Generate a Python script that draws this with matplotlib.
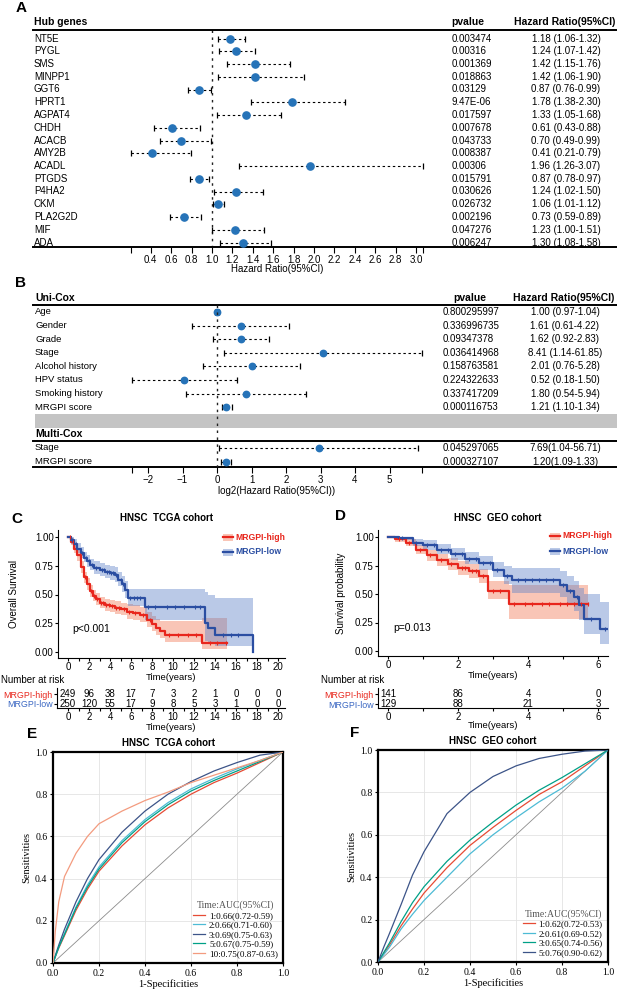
import numpy as np
import matplotlib
matplotlib.use('Agg')
import matplotlib.pyplot as plt
from matplotlib.patches import Rectangle

plt.rcParams['font.family'] = ['Liberation Sans', 'DejaVu Sans']

# ---------------- data: panel A (hub genes, univariate Cox) ----------------
genes = ['NT5E', 'PYGL', 'SMS', 'MINPP1', 'GGT6', 'HPRT1', 'AGPAT4', 'CHDH', 'ACACB',
         'AMY2B', 'ACADL', 'PTGDS', 'P4HA2', 'CKM', 'PLA2G2D', 'MIF', 'ADA']
gene_hr = [1.18, 1.24, 1.42, 1.42, 0.87, 1.78, 1.33, 0.61, 0.70, 0.41, 1.96, 0.87, 1.24, 1.06, 0.73, 1.23, 1.30]
gene_lo = [1.06, 1.07, 1.15, 1.06, 0.76, 1.38, 1.05, 0.43, 0.49, 0.21, 1.26, 0.78, 1.02, 1.01, 0.59, 1.00, 1.08]
gene_hi = [1.32, 1.42, 1.76, 1.90, 0.99, 2.30, 1.68, 0.88, 0.99, 0.79, 3.07, 0.97, 1.50, 1.12, 0.89, 1.51, 1.58]
gene_p = ['0.003474', '0.00316', '0.001369', '0.018863', '0.03129', '9.47E-06', '0.017597', '0.007678',
          '0.043733', '0.008387', '0.00306', '0.015791', '0.030626', '0.026732', '0.002196', '0.047276', '0.006247']
hr_tick_labels_A = ['0.4', '0.6', '0.8', '1.0', '1.2', '1.4', '1.6', '1.8', '2.0', '2.2', '2.4', '2.6', '2.8', '3.0']

# ---------------- data: panel B (clinical Cox) ----------------
uni_vars = ['Age', 'Gender', 'Grade', 'Stage', 'Alcohol history', 'HPV status', 'Smoking history', 'MRGPI score']
uni_hr = [1.00, 1.61, 1.62, 8.41, 2.01, 0.52, 1.80, 1.21]
uni_lo = [0.97, 0.61, 0.92, 1.14, 0.76, 0.18, 0.54, 1.10]
uni_hi = [1.04, 4.22, 2.83, 61.85, 5.28, 1.50, 5.94, 1.34]
uni_p = ['0.800295997', '0.336996735', '0.09347378', '0.036414968', '0.158763581', '0.224322633',
         '0.337417209', '0.000116753']
multi_vars = ['Stage', 'MRGPI score']
multi_hr = [7.69, 1.20]
multi_lo = [1.04, 1.09]
multi_hi = [56.71, 1.33]
multi_p = ['0.045297065', '0.000327107']
log_tick_labels_B = ['\u22122', '\u22121', '0', '1', '2', '3', '4', '5']

# ---------------- data: panel C (TCGA Kaplan-Meier) ----------------
c_high_t = [0, 0.3, 0.6, 0.9, 1.2, 1.5, 1.8, 2.1, 2.4, 2.7, 3.0, 3.5, 4.0, 4.5, 5.0, 5.6, 6.2, 6.9, 7.5, 8.0, 8.4, 8.8, 9.2, 12.8]
c_high_s = [1.0, 0.96, 0.90, 0.84, 0.74, 0.65, 0.59, 0.53, 0.49, 0.46, 0.43, 0.41, 0.40, 0.38, 0.37, 0.35, 0.34, 0.32, 0.28, 0.24, 0.21, 0.18, 0.15, 0.08]
c_high_lo = [1.0, 0.93, 0.86, 0.79, 0.69, 0.60, 0.54, 0.48, 0.44, 0.41, 0.38, 0.36, 0.35, 0.33, 0.32, 0.29, 0.28, 0.26, 0.22, 0.18, 0.15, 0.12, 0.09, 0.03]
c_high_hi = [1.0, 0.99, 0.94, 0.89, 0.79, 0.70, 0.64, 0.58, 0.54, 0.51, 0.48, 0.46, 0.45, 0.44, 0.43, 0.42, 0.41, 0.39, 0.35, 0.31, 0.29, 0.27, 0.27, 0.30]
c_high_end = 15.1
c_high_cens = [0.2, 0.5, 1.1, 1.6, 2.2, 2.5, 2.8, 3.1, 3.3, 3.6, 3.9, 4.2, 4.6, 4.9, 5.3, 5.8, 6.4, 7.1, 7.8, 9.6, 10.5, 11.4, 12.2, 13.5, 14.2, 15.0]
c_low_t = [0, 0.3, 0.6, 0.9, 1.2, 1.5, 1.8, 2.1, 2.5, 3.0, 3.5, 4.0, 4.5, 4.8, 5.1, 5.4, 5.7, 7.3, 13.0, 13.3, 14.0, 17.6]
c_low_s = [1.0, 0.97, 0.94, 0.90, 0.86, 0.82, 0.79, 0.76, 0.73, 0.71, 0.70, 0.69, 0.67, 0.63, 0.59, 0.54, 0.47, 0.39, 0.25, 0.21, 0.15, 0.0]
c_low_lo = [1.0, 0.94, 0.90, 0.86, 0.82, 0.78, 0.74, 0.71, 0.68, 0.66, 0.64, 0.63, 0.61, 0.57, 0.52, 0.47, 0.40, 0.28, 0.10, 0.07, 0.05, 0.0]
c_low_hi = [1.0, 1.0, 0.98, 0.95, 0.91, 0.87, 0.84, 0.81, 0.79, 0.77, 0.76, 0.75, 0.74, 0.70, 0.66, 0.62, 0.55, 0.55, 0.52, 0.50, 0.47, 0.47]
c_low_end = 17.6
c_low_cens = [0.4, 0.8, 1.3, 1.7, 2.0, 2.3, 2.7, 3.2, 3.4, 3.7, 3.9, 4.1, 4.3, 4.6, 5.0, 5.2, 5.9, 6.3, 6.6, 6.9, 7.6, 8.3, 9.4, 10.2, 11.0, 12.1, 12.6, 14.8, 15.5, 16.2]
c_risk_times = [0, 2, 4, 6, 8, 10, 12, 14, 16, 18, 20]
c_risk_high = [249, 96, 38, 17, 7, 3, 2, 1, 0, 0, 0]
c_risk_low = [250, 120, 55, 17, 9, 8, 5, 3, 1, 0, 0]

# ---------------- data: panel D (GEO Kaplan-Meier) ----------------
d_high_t = [0, 0.2, 0.5, 0.8, 1.1, 1.4, 1.7, 2.0, 2.3, 2.6, 2.85, 3.45]
d_high_s = [1.0, 0.98, 0.95, 0.89, 0.84, 0.80, 0.76, 0.73, 0.70, 0.66, 0.53, 0.41]
d_high_lo = [1.0, 0.96, 0.92, 0.85, 0.79, 0.75, 0.71, 0.67, 0.64, 0.60, 0.46, 0.28]
d_high_hi = [1.0, 1.0, 0.98, 0.93, 0.89, 0.85, 0.82, 0.79, 0.76, 0.72, 0.61, 0.58]
d_high_end = 5.7
d_high_cens = [0.3, 0.6, 0.9, 1.2, 1.5, 1.8, 2.1, 2.2, 2.4, 2.5, 2.7, 3.0, 3.2, 3.6, 3.9, 4.1, 4.4, 4.6, 4.9, 5.1, 5.3, 5.5, 5.7]
d_low_t = [0, 0.3, 0.7, 1.0, 1.4, 1.8, 2.2, 2.6, 3.0, 3.3, 3.55, 4.9, 5.1, 5.3, 5.45, 5.6, 6.05]
d_low_s = [1.0, 0.99, 0.95, 0.93, 0.89, 0.85, 0.81, 0.77, 0.71, 0.66, 0.62, 0.58, 0.53, 0.47, 0.40, 0.28, 0.19]
d_low_lo = [1.0, 0.97, 0.92, 0.89, 0.85, 0.80, 0.76, 0.71, 0.65, 0.59, 0.51, 0.47, 0.41, 0.35, 0.27, 0.15, 0.06]
d_low_hi = [1.0, 1.0, 0.98, 0.97, 0.94, 0.90, 0.87, 0.83, 0.78, 0.75, 0.73, 0.70, 0.66, 0.61, 0.55, 0.50, 0.43]
d_low_end = 6.3
d_low_cens = [0.4, 0.8, 1.1, 1.3, 1.5, 1.7, 1.9, 2.1, 2.3, 2.5, 2.7, 2.9, 3.1, 3.4, 3.7, 3.9, 4.1, 4.3, 4.5, 4.7, 5.0, 5.2, 5.4, 5.8, 6.2]
d_risk_times = [0, 2, 4, 6]
d_risk_high = [141, 86, 4, 0]
d_risk_low = [129, 88, 21, 3]

# ---------------- data: panel E / F (time-dependent ROC) ----------------
e_fpr = [0, 0.01, 0.025, 0.05, 0.1, 0.15, 0.2, 0.3, 0.4, 0.5, 0.6, 0.7, 0.8, 0.9, 1.0]
e_tpr = {
    '1:0.66(0.72-0.59)': [0, 0.03, 0.07, 0.13, 0.25, 0.35, 0.435, 0.555, 0.655, 0.735, 0.80, 0.855, 0.90, 0.95, 1.0],
    '2:0.66(0.71-0.60)': [0, 0.03, 0.075, 0.14, 0.265, 0.37, 0.455, 0.58, 0.68, 0.76, 0.825, 0.875, 0.92, 0.96, 1.0],
    '3:0.69(0.75-0.63)': [0, 0.035, 0.085, 0.16, 0.29, 0.40, 0.49, 0.62, 0.72, 0.80, 0.86, 0.91, 0.95, 0.985, 1.0],
    '5:0.67(0.75-0.59)': [0, 0.03, 0.075, 0.135, 0.26, 0.36, 0.445, 0.57, 0.67, 0.75, 0.815, 0.865, 0.91, 0.955, 1.0],
    '10:0.75(0.87-0.63)': [0, 0.15, 0.29, 0.41, 0.52, 0.60, 0.66, 0.72, 0.77, 0.81, 0.855, 0.89, 0.925, 0.96, 1.0],
}
e_colors = ['#E64B35', '#4DBBD5', '#3C5488', '#00A087', '#F39B7F']
f_fpr = [0, 0.025, 0.05, 0.1, 0.15, 0.2, 0.3, 0.4, 0.5, 0.6, 0.7, 0.8, 0.9, 1.0]
f_tpr = {
    '1:0.62(0.72-0.53)': [0, 0.04, 0.08, 0.17, 0.25, 0.325, 0.445, 0.55, 0.635, 0.715, 0.79, 0.85, 0.925, 1.0],
    '2:0.61(0.69-0.52)': [0, 0.035, 0.07, 0.155, 0.225, 0.29, 0.40, 0.51, 0.60, 0.68, 0.755, 0.82, 0.90, 1.0],
    '3:0.65(0.74-0.56)': [0, 0.045, 0.09, 0.19, 0.28, 0.355, 0.475, 0.575, 0.66, 0.74, 0.81, 0.87, 0.935, 1.0],
    '5:0.76(0.90-0.62)': [0, 0.07, 0.135, 0.27, 0.41, 0.52, 0.70, 0.80, 0.875, 0.925, 0.96, 0.98, 0.995, 1.0],
}
f_colors = ['#E64B35', '#4DBBD5', '#00A087', '#3C5488']
roc_ticks = [0.0, 0.2, 0.4, 0.6, 0.8, 1.0]

# ---------------- figure ----------------
W, H = 617, 989
fig = plt.figure(figsize=(W / 100, H / 100), dpi=100)


def px_axes(x0, y0, x1, y1):
    return fig.add_axes([x0 / W, 1 - y1 / H, (x1 - x0) / W, (y1 - y0) / H])


DOT = '#2673B8'
RED = '#E8261C'
BLUE = '#2B4EA2'
RISK_BLUE = '#3A67C2'
SERIF = ['Liberation Serif', 'DejaVu Serif']


def draw_forest(ax, ys, est, lo, hi, ms):
    for y, e, l, h in zip(ys, est, lo, hi):
        ax.plot([l, h], [y, y], color='black', lw=0.8, ls=(0, (2.2, 2.4)), zorder=2)
        ax.plot([l, h], [y, y], ls='none', marker='|', ms=5, mew=0.9, color='black', zorder=2)
        ax.plot([e], [y], 'o', ms=ms, color=DOT, mec=DOT, zorder=3)


def clean(ax):
    for sp in ax.spines.values():
        sp.set_visible(False)
    ax.set_yticks([])
    ax.patch.set_visible(False)


# ---- Panel A ----
a_row0, a_rowh = 38.5, 12.75
rA = lambda py: (py - a_row0) / a_rowh
axA = px_axes(0, 14, W, 247)
clean(axA)
axA.set_xlim(1 - 212 / 102, 1 + (W - 212) / 102)
axA.set_ylim(rA(247), rA(14))
ya = np.arange(len(genes))
draw_forest(axA, ya, gene_hr, gene_lo, gene_hi, 5.2)
axA.vlines(1, rA(30), rA(247), colors='#222222', lw=1.0, linestyles=(0, (1.8, 3.2)), zorder=1)
tA = axA.get_yaxis_transform()
for y, g, p, h, l, u in zip(ya, genes, gene_p, gene_hr, gene_lo, gene_hi):
    axA.text(34 / W, y, g, transform=tA, ha='left', va='center', fontsize=7)
    axA.text(452 / W, y, p, transform=tA, ha='left', va='center', fontsize=7)
    axA.text(566 / W, y, f'{h:.2f} ({l:.2f}-{u:.2f})', transform=tA, ha='center', va='center', fontsize=7)
axA.text(34 / W, rA(22), 'Hub genes', transform=tA, ha='left', va='center', fontsize=7.5, fontweight='bold')
axA.text(468 / W, rA(22), 'pvalue', transform=tA, ha='center', va='center', fontsize=7.5, fontweight='bold')
axA.text(565 / W, rA(22), 'Hazard Ratio(95%CI)', transform=tA, ha='center', va='center', fontsize=7.5, fontweight='bold')
axA.plot([33 / W, 1], [rA(30)] * 2, transform=tA, color='black', lw=1.4, clip_on=False)
axA.plot([33 / W, 1], [rA(246.5)] * 2, transform=tA, color='black', lw=1.4, clip_on=False)
a_min, a_max = min(gene_lo), max(gene_hi)
axA.set_xticks([a_min] + [float(v) for v in hr_tick_labels_A] + [a_max])
axA.set_xticklabels([''] + hr_tick_labels_A + [''])
axA.tick_params(axis='x', direction='out', length=4, width=0.8, labelsize=7, pad=2)
axA.text((a_min + a_max) / 2, -0.075, 'Hazard Ratio(95%CI)', transform=axA.get_xaxis_transform(),
         ha='center', va='top', fontsize=7)

# ---- Panel B ----
b_row0, b_rowh = 312, 13.6
rB = lambda py: (py - b_row0) / b_rowh
axB = px_axes(0, 290, W, 467)
clean(axB)
axB.set_xlim(-217 / 34.5, (W - 217) / 34.5)
axB.set_ylim(rB(467), rB(290))
yu = np.arange(len(uni_vars))
ym = np.arange(len(multi_vars)) + len(uni_vars) + 2
draw_forest(axB, yu, np.log2(uni_hr), np.log2(uni_lo), np.log2(uni_hi), 4.6)
draw_forest(axB, ym, np.log2(multi_hr), np.log2(multi_lo), np.log2(multi_hi), 4.6)
axB.axhspan(len(uni_vars) - 0.5, len(uni_vars) + 0.5, xmin=35 / W, xmax=1, color='#C4C4C4', lw=0, zorder=0)
axB.vlines(0, rB(305), rB(467), colors='#222222', lw=1.0, linestyles=(0, (1.8, 3.2)), zorder=4)
tB = axB.get_yaxis_transform()
for y, v, p, h, l, u in zip(yu, uni_vars, uni_p, uni_hr, uni_lo, uni_hi):
    axB.text(35 / W, y, v, transform=tB, ha='left', va='center', fontsize=6.8)
    axB.text(443 / W, y, p, transform=tB, ha='left', va='center', fontsize=7)
    axB.text(565 / W, y, f'{h:.2f} ({l:.2f}-{u:.2f})', transform=tB, ha='center', va='center', fontsize=7)
for y, v, p, h, l, u in zip(ym, multi_vars, multi_p, multi_hr, multi_lo, multi_hi):
    axB.text(35 / W, y, v, transform=tB, ha='left', va='center', fontsize=6.8)
    axB.text(443 / W, y, p, transform=tB, ha='left', va='center', fontsize=7)
    axB.text(565 / W, y, f'{h:.2f}({l:.2f}-{u:.2f})', transform=tB, ha='center', va='center', fontsize=7)
axB.text(35 / W, rB(298), 'Uni-Cox', transform=tB, ha='left', va='center', fontsize=7.5, fontweight='bold')
axB.text(470 / W, rB(298), 'pvalue', transform=tB, ha='center', va='center', fontsize=7.5, fontweight='bold')
axB.text(564 / W, rB(298), 'Hazard Ratio(95%CI)', transform=tB, ha='center', va='center', fontsize=7.5, fontweight='bold')
axB.text(35 / W, len(uni_vars) + 1, 'Multi-Cox', transform=tB, ha='left', va='center', fontsize=7.5, fontweight='bold')
axB.plot([33 / W, 1], [rB(305)] * 2, transform=tB, color='black', lw=1.4, clip_on=False)
axB.plot([33 / W, 1], [len(uni_vars) + 1.5] * 2, transform=tB, color='black', lw=1.4, clip_on=False)
axB.plot([33 / W, 1], [rB(466.5)] * 2, transform=tB, color='black', lw=1.4, clip_on=False)
b_min = float(np.log2(min(uni_lo + multi_lo)))
b_max = float(np.log2(max(uni_hi + multi_hi)))
axB.set_xticks([b_min] + [float(v.replace('\u2212', '-')) for v in log_tick_labels_B] + [b_max])
axB.set_xticklabels([''] + log_tick_labels_B + [''])
axB.tick_params(axis='x', direction='out', length=4, width=0.8, labelsize=7, pad=2)
axB.text((b_min + b_max) / 2, -0.11, 'log2(Hazard Ratio(95%CI))', transform=axB.get_xaxis_transform(),
         ha='center', va='top', fontsize=7)


# ---- KM panels ----
def km_band(ax, t, lo, hi, t_end, band_c, band_a):
    tt = np.append(t, t_end)
    ax.fill_between(tt, np.append(lo, lo[-1]), np.append(hi, hi[-1]), step='post',
                    color=band_c, alpha=band_a, lw=0, zorder=1)


def km_line(ax, t, s, t_end, cens, line_c):
    tt = np.append(t, t_end)
    ss = np.append(s, s[-1])
    ax.step(tt, ss, where='post', color=line_c, lw=1.6, zorder=3)
    cens = np.asarray(cens)
    idx = np.searchsorted(np.asarray(t), cens, side='right') - 1
    ax.plot(cens, np.asarray(s)[idx], ls='none', marker='|', ms=3.2, mew=0.8, color=line_c, zorder=4)


def km_style(ax, xmaj, xmin_):
    for k in ['top', 'right']:
        ax.spines[k].set_visible(False)
    for k in ['left', 'bottom']:
        ax.spines[k].set_linewidth(0.8)
    ax.set_xticks(xmaj)
    ax.set_xticks(xmin_, minor=True)
    ax.tick_params(axis='both', which='both', direction='out', length=2, width=0.8, labelsize=7, pad=1)
    ax.patch.set_visible(False)


def risk_labels(ax):
    ax.set_yticks([1, 0])
    ax.set_yticklabels(['MRGPI-high', 'MRGPI-low'])
    ax.tick_params(axis='y', labelsize=6.4, pad=1)
    for lab, col in zip(ax.get_yticklabels(), [RED, RISK_BLUE]):
        lab.set_color(col)


# Panel C
axC = px_axes(58, 530, 285, 658)
axC.set_xlim((58 - 68) / 10.5, (285 - 68) / 10.5)
axC.set_ylim((652 - 658) / 115, (652 - 530) / 115)
km_band(axC, c_high_t, c_high_lo, c_high_hi, c_high_end, '#F3805E', 0.45)
km_band(axC, c_low_t, c_low_lo, c_low_hi, c_low_end, '#5B80C8', 0.42)
km_line(axC, c_high_t, c_high_s, c_high_end, c_high_cens, RED)
km_line(axC, c_low_t, c_low_s, c_low_end, c_low_cens, BLUE)
km_style(axC, c_risk_times, [1, 3, 5, 7, 9, 11, 13, 15, 17, 19])
axC.set_yticks([0, 0.25, 0.5, 0.75, 1.0])
axC.set_yticklabels(['0.00', '0.25', '0.50', '0.75', '1.00'])
axC.text(0.38, 0.2, 'p<0.001', fontsize=7.5, ha='left', va='center')
axC.text(0.5, -(677 - 658) / 128, 'Time(years)', transform=axC.transAxes, ha='center', va='center', fontsize=6.8)

axCr = px_axes(57, 688, 285, 708)
axCr.set_xlim((57 - 68) / 10.5, (285 - 68) / 10.5)
axCr.set_ylim(-0.47, 1.63)
for tx, nh, nl in zip(c_risk_times, c_risk_high, c_risk_low):
    axCr.text(tx, 1, str(nh), ha='center', va='center', fontsize=7)
    axCr.text(tx, 0, str(nl), ha='center', va='center', fontsize=7)
km_style(axCr, c_risk_times, [1, 3, 5, 7, 9, 11, 13, 15, 17, 19])
risk_labels(axCr)
axCr.text(0.5, -(727 - 708) / 20, 'Time(years)', transform=axCr.transAxes, ha='center', va='center', fontsize=6.8)

# Panel D
axD = px_axes(378, 530, 608, 656)
axD.set_xlim((378 - 388) / 35, (608 - 388) / 35)
axD.set_ylim((651 - 656) / 114, (651 - 530) / 114)
km_band(axD, d_high_t, d_high_lo, d_high_hi, d_high_end, '#F3805E', 0.45)
km_band(axD, d_low_t, d_low_lo, d_low_hi, d_low_end, '#5B80C8', 0.42)
km_line(axD, d_high_t, d_high_s, d_high_end, d_high_cens, RED)
km_line(axD, d_low_t, d_low_s, d_low_end, d_low_cens, BLUE)
km_style(axD, d_risk_times, [1, 3, 5])
axD.set_yticks([0, 0.25, 0.5, 0.75, 1.0])
axD.set_yticklabels(['0.00', '0.25', '0.50', '0.75', '1.00'])
axD.text(0.14, 0.2, 'p=0.013', fontsize=7.5, ha='left', va='center')
axD.text(0.5, -(675 - 656) / 126, 'Time(years)', transform=axD.transAxes, ha='center', va='center', fontsize=6.8)

axDr = px_axes(378, 688, 608, 708)
axDr.set_xlim((378 - 388) / 35, (608 - 388) / 35)
axDr.set_ylim(-0.4, 1.6)
for tx, nh, nl in zip(d_risk_times, d_risk_high, d_risk_low):
    axDr.text(tx, 1, str(nh), ha='center', va='center', fontsize=7)
    axDr.text(tx, 0, str(nl), ha='center', va='center', fontsize=7)
km_style(axDr, d_risk_times, [1, 3, 5])
risk_labels(axDr)
axDr.text(0.5, -(726 - 708) / 20, 'Time(years)', transform=axDr.transAxes, ha='center', va='center', fontsize=6.8)


# ---- ROC panels ----
def roc_panel(ax, fpr, tprs, colors, title):
    ax.set_xlim(0, 1)
    ax.set_ylim(0, 1)
    ax.grid(True, color='#E3E3E3', lw=0.6)
    ax.set_axisbelow(True)
    ax.plot([0, 1], [0, 1], color='#8C8C8C', lw=0.6, zorder=2)
    for (lab, tpr), col in zip(tprs.items(), colors):
        ax.plot(fpr, tpr, color=col, lw=0.9, label=lab, zorder=3)
    for sp in ax.spines.values():
        sp.set_linewidth(1.6)
    ax.set_xticks(roc_ticks)
    ax.set_yticks(roc_ticks)
    ax.set_xticklabels([f'{v:.1f}' for v in roc_ticks], family=SERIF)
    ax.set_yticklabels([f'{v:.1f}' for v in roc_ticks], family=SERIF)
    ax.tick_params(direction='out', length=2, width=0.8, labelsize=7, pad=2)
    ax.set_xlabel('1-Specificities', family=SERIF, fontsize=7.5, labelpad=1)
    ax.set_ylabel('Sensitivities', family=SERIF, fontsize=7.5, labelpad=3)
    ax.set_title(title, fontsize=7, fontweight='bold', pad=4)
    leg = ax.legend(loc='lower right', bbox_to_anchor=(1.0, 0.0), frameon=False,
                    prop={'family': SERIF, 'size': 6.6}, title='Time:AUC(95%CI)',
                    handlelength=1.3, handletextpad=0.4, labelspacing=0.12, borderaxespad=0.15)
    leg.get_title().set_family(SERIF)
    leg.get_title().set_fontsize(7)
    leg.get_title().set_color('#555555')


axE = px_axes(53, 752, 283, 963)
roc_panel(axE, e_fpr, e_tpr, e_colors, 'HNSC  TCGA cohort')
axF = px_axes(378, 750, 608, 962)
roc_panel(axF, f_fpr, f_tpr, f_colors, 'HNSC  GEO cohort')

# ---- overlay: panel letters, KM titles, legends, axis labels ----
ov = px_axes(0, 0, W, H)
ov.set_xlim(0, W)
ov.set_ylim(H, 0)
ov.axis('off')
for lt, x, y in [('A', 21, 8), ('B', 21, 283), ('C', 17, 519), ('D', 341, 516), ('E', 32, 734), ('F', 355, 733)]:
    ov.text(x, y, lt, fontsize=11, fontweight='bold', ha='center', va='center')
ov.text(167, 518, 'HNSC  TCGA cohort', fontsize=7, fontweight='bold', ha='center', va='center')
ov.text(498, 518, 'HNSC  GEO cohort', fontsize=7, fontweight='bold', ha='center', va='center')
ov.text(14, 594, 'Overall Survival', rotation=90, fontsize=7, ha='center', va='center')
ov.text(341, 593, 'Survival probability', rotation=90, fontsize=7, ha='center', va='center')
ov.text(1, 680, 'Number at risk', fontsize=7, ha='left', va='center')
ov.text(321, 680, 'Number at risk', fontsize=7, ha='left', va='center')
for kx, ky in [(223, 537), (550, 536)]:
    for dy, lc, bc, ba, lab in [(0, RED, '#F3805E', 0.45, 'MRGPI-high'), (15, BLUE, '#5B80C8', 0.42, 'MRGPI-low')]:
        ov.add_patch(Rectangle((kx, ky + dy - 3.5), 10, 7, color=bc, alpha=ba, lw=0))
        ov.plot([kx, kx + 10], [ky + dy, ky + dy], color=lc, lw=1.6)
        ov.text(kx + 12.5, ky + dy, lab, color=lc, fontsize=6.2, fontweight='bold', ha='left', va='center')

fig.savefig('out.png', dpi=100)
